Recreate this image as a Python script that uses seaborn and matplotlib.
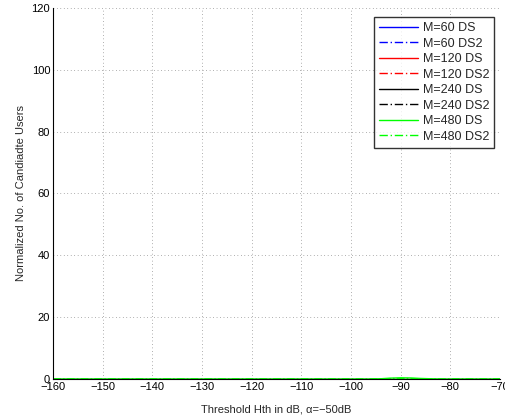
import numpy as np
import pandas as pd
import matplotlib
matplotlib.use("Agg")
import matplotlib.pyplot as plt
import seaborn as sns

# Threshold values (dB) at which the candidate-user count was evaluated
thresholds = [-160, -150, -140, -130, -120, -110, -100, -96, -94, -92, -90, -88, -86, -84, -82, -80, -75, -70]

# Normalized number of candidate users per scheme
m60_ds   = [0, 0, 0, 0, 0, 0, 0, 0, 0, 0, 0, 0, 0, 0, 0, 0, 0, 0]
m60_ds2  = [0, 0, 0, 0, 0, 0, 0, 0, 0, 0, 0, 0, 0, 0, 0, 0, 0, 0]
m120_ds  = [0, 0, 0, 0, 0, 0, 0, 0, 0, 0, 0, 0, 0, 0, 0, 0, 0, 0]
m120_ds2 = [0, 0, 0, 0, 0, 0, 0, 0, 0, 0, 0, 0, 0, 0, 0, 0, 0, 0]
m240_ds  = [0, 0, 0, 0, 0, 0, 0, 0, 0, 0, 0, 0, 0, 0, 0, 0, 0, 0]
m240_ds2 = [0, 0, 0, 0, 0, 0, 0, 0, 0, 0, 0, 0, 0, 0, 0, 0, 0, 0]
m480_ds  = [0, 0, 0, 0, 0, 0, 0, 0, 0.1, 0.3, 0.4, 0.35, 0.2, 0.1, 0, 0, 0, 0]
m480_ds2 = [0, 0, 0, 0, 0, 0, 0, 0, 0.05, 0.15, 0.2, 0.15, 0.1, 0.05, 0, 0, 0, 0]

series_names = ["M=60 DS", "M=60 DS2", "M=120 DS", "M=120 DS2",
                "M=240 DS", "M=240 DS2", "M=480 DS", "M=480 DS2"]
series_values = [m60_ds, m60_ds2, m120_ds, m120_ds2,
                 m240_ds, m240_ds2, m480_ds, m480_ds2]

frames = []
for name, vals in zip(series_names, series_values):
    frames.append(pd.DataFrame({"Hth": thresholds, "users": vals, "series": name}))
df = pd.concat(frames, ignore_index=True)

palette = {
    "M=60 DS": "#0000ff", "M=60 DS2": "#0000ff",
    "M=120 DS": "#ff0000", "M=120 DS2": "#ff0000",
    "M=240 DS": "#000000", "M=240 DS2": "#000000",
    "M=480 DS": "#00ff00", "M=480 DS2": "#00ff00",
}
dashes = {
    "M=60 DS": "", "M=60 DS2": (6, 2, 1, 2),
    "M=120 DS": "", "M=120 DS2": (6, 2, 1, 2),
    "M=240 DS": "", "M=240 DS2": (6, 2, 1, 2),
    "M=480 DS": "", "M=480 DS2": (6, 2, 1, 2),
}

sns.set_style("white")
plt.rcParams["font.family"] = ["Liberation Sans", "DejaVu Sans"]

fig = plt.figure(figsize=(5.06, 4.19), dpi=100)
ax = fig.add_axes([0.1047, 0.0955, 0.8833, 0.8855])

sns.lineplot(data=df, x="Hth", y="users", hue="series", style="series",
             palette=palette, dashes=dashes, hue_order=series_names,
             style_order=series_names, linewidth=0.9, ax=ax, legend=True)

ax.set_xlim(-160, -70)
ax.set_ylim(0, 120)
ax.set_xticks(np.arange(-160, -69, 10))
ax.set_yticks(np.arange(0, 121, 20))
ax.set_xticklabels([f"\u2212{abs(v)}" for v in range(-160, -69, 10)])

ax.grid(True, linestyle=(0, (1, 4)), color="#666666", linewidth=0.5)
for side in ["top", "right"]:
    ax.spines[side].set_visible(False)
for side in ["left", "bottom"]:
    ax.spines[side].set_color("black")
    ax.spines[side].set_linewidth(0.8)
ax.tick_params(direction="in", length=3, labelsize=8, colors="black", pad=2)

ax.set_xlabel("Threshold Hth in dB, \u03b1=\u221250dB", fontsize=8, labelpad=9)
ax.set_ylabel("Normalized No. of Candiadte Users", fontsize=8, labelpad=4)

leg = ax.legend(loc="upper right", bbox_to_anchor=(0.987, 0.975), fontsize=9,
                frameon=True, fancybox=False, edgecolor="black",
                handlelength=3.1, handletextpad=0.4, labelspacing=0.28,
                borderpad=0.4, borderaxespad=0.0)
leg.get_frame().set_linewidth(1.0)
for handle, name in zip(leg.get_lines(), series_names):
    handle.set_color(palette[name])
    handle.set_linewidth(1.0)

fig.savefig("out.png", dpi=100)
